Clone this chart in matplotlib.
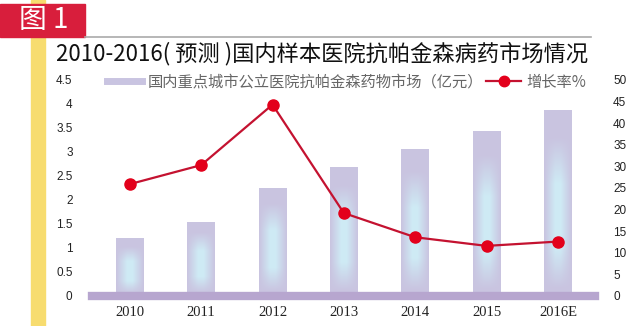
import numpy as np
import matplotlib
matplotlib.use("Agg")
import matplotlib.pyplot as plt
from matplotlib.lines import Line2D
from matplotlib.patches import Rectangle

plt.rcParams['font.family'] = ['Noto Sans CJK SC', 'DejaVu Sans']

# ---------------- data ----------------
years = ['2010', '2011', '2012', '2013', '2014', '2015', '2016E']
market = [1.2, 1.55, 2.26, 2.69, 3.06, 3.44, 3.88]          # 亿元
growth = [25.9, 30.3, 44.3, 19.2, 13.6, 11.6, 12.6]         # %
left_ticks = [0, 0.5, 1, 1.5, 2, 2.5, 3, 3.5, 4, 4.5]
left_labels = ['0', '0.5', '1', '1.5', '2', '2.5', '3', '3.5', '4', '4.5']
right_ticks = [0, 5, 10, 15, 20, 25, 30, 35, 40, 45, 50]
title = '2010-2016( 预测 )国内样本医院抗帕金森病药市场情况'
bar_label = '国内重点城市公立医院抗帕金森药物市场（亿元）'
line_label = '增长率%'
badge = '图 1'

W, H = 626, 326
fig = plt.figure(figsize=(W / 100, H / 100), dpi=100)

# decorations: yellow strip, red badge, grey rule
fig.patches.append(Rectangle((31 / W, 0), 14 / W, 1, transform=fig.transFigure,
                             color='#f7dc6f', zorder=0))
fig.patches.append(Rectangle((0, 1 - 37 / H), 85 / W, 33 / H, transform=fig.transFigure,
                             color='#d81e3c', zorder=1))
fig.text(44 / W, 1 - 20 / H, badge, color='white', fontsize=20, ha='center', va='center',
         family=['Noto Sans CJK SC', 'DejaVu Sans'], zorder=2)
fig.add_artist(Line2D([85 / W, 591 / W], [1 - 36.5 / H, 1 - 36.5 / H], transform=fig.transFigure,
                      color='#aaaaaa', lw=1.2))
fig.text(56 / W, 1 - 54 / H, title, fontsize=16.0, ha='left', va='center', color='#111111')

# axes
ax = fig.add_axes([92 / W, 30 / H, 503 / W, 216 / H])
ax2 = ax.twinx()
x = np.arange(len(years))
ax.set_xlim(-0.53, 6.52)
ax.set_ylim(0, 4.5)
ax2.set_ylim(0, 50)

for a in (ax, ax2):
    for s in a.spines.values():
        s.set_visible(False)
    a.tick_params(length=0)

ax.set_yticks(left_ticks)
ax.set_yticklabels(left_labels, family='Liberation Sans', fontsize=8.5, color='#222222')
ax.tick_params(axis='y', pad=14)
ax2.set_yticks(right_ticks)
ax2.set_yticklabels([str(t) for t in right_ticks], family='Liberation Sans', fontsize=8.5,
                    color='#222222')
ax2.tick_params(axis='y', pad=13)
ax.set_xticks(x)
ax.set_xticklabels(years, family='Liberation Serif', fontsize=10.5, color='#222222')
ax.tick_params(axis='x', pad=7)

# gradient bars
bars = ax.bar(x, market, width=0.39, color='#c9c4e1', zorder=2)
ny, nx = 120, 40
yy = np.linspace(0, 1, ny)[:, None]
xx = np.linspace(-1, 1, nx)[None, :]
hx = np.clip(1.25 - np.abs(xx) / 0.8, 0, 1) ** 1.0
vy = np.clip(np.minimum((yy - 0.04) / 0.22, (0.85 - yy) / 0.25), 0, 1)
w = hx * vy
edge = np.array([0.79, 0.77, 0.88])
centre = np.array([0.81, 0.92, 0.96])
img = edge[None, None, :] * (1 - w[..., None]) + centre[None, None, :] * w[..., None]
for b in bars:
    x0, bw, h = b.get_x(), b.get_width(), b.get_height()
    im = ax.imshow(img, extent=(x0, x0 + bw, 0, h), origin='lower', aspect='auto',
                   interpolation='bilinear', zorder=3)
    im.set_clip_path(b)
ax.set_xlim(-0.53, 6.52)
ax.set_ylim(0, 4.5)

# baseline band
ax.axhline(0, color='#b7a6cf', lw=6, zorder=4, clip_on=False)

# growth line
ax2.plot(x, growth, color='#c41230', lw=1.6, marker='o', markersize=8,
         markerfacecolor='#e3001b', markeredgecolor='#e3001b', zorder=5, clip_on=False)

# legend
h1 = Line2D([], [], color='#c9c4e1', lw=5)
h2 = Line2D([], [], color='#c41230', lw=1.6, marker='o', markersize=7.5,
            markerfacecolor='#e3001b', markeredgecolor='#e3001b')
leg = fig.legend([h1, h2], [bar_label, line_label], loc='center left',
                 bbox_to_anchor=(104 / W, 1 - 82 / H), ncol=2, frameon=False,
                 fontsize=11.0, handlelength=2.3, handletextpad=0.35, columnspacing=0.2,
                 borderaxespad=0, borderpad=0.2)
for t in leg.get_texts():
    t.set_color('#666666')

fig.savefig('out.png', dpi=100)
